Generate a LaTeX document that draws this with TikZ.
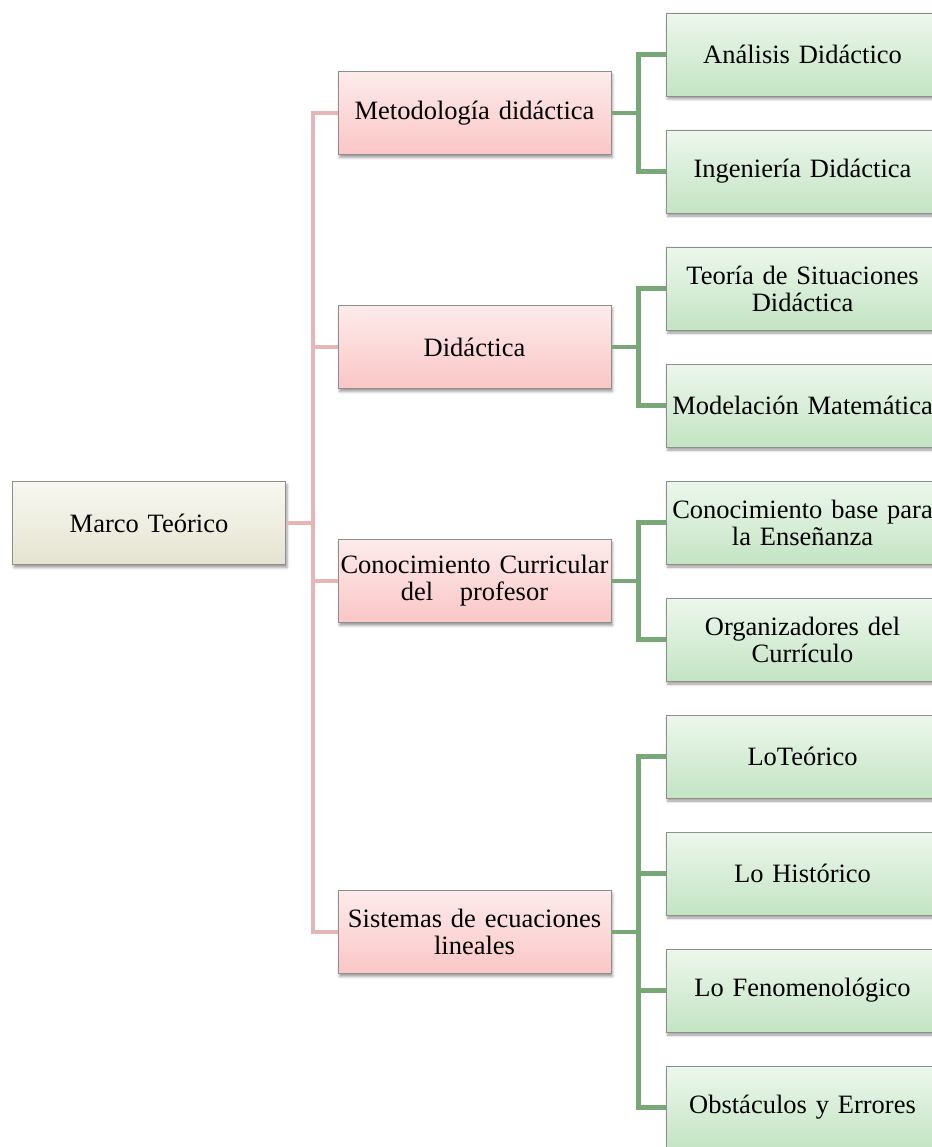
\documentclass[tikz,border=0pt]{standalone}
\usepackage{fontspec}
\setmainfont{Liberation Serif}
\usetikzlibrary{shadows.blur}
\definecolor{rootTop}{HTML}{F8F8F1}
\definecolor{rootBot}{HTML}{E5E3D0}
\definecolor{pinkTop}{HTML}{FDEBEB}
\definecolor{pinkBot}{HTML}{FBC6C6}
\definecolor{greenTop}{HTML}{EDF7ED}
\definecolor{greenBot}{HTML}{C3E4C3}
\definecolor{boxBorder}{HTML}{8E8E8E}
\definecolor{pinkLine}{HTML}{E6B5B5}
\definecolor{greenLine}{HTML}{78A878}
\tikzset{
  basebox/.style={draw=boxBorder, line width=0.9pt, minimum width=273pt, minimum height=83pt,
    inner sep=0pt, align=center, text width=270pt,
    font=\fontsize{26.5}{27}\selectfont,
    blur shadow={shadow xshift=1.5pt, shadow yshift=-3pt, shadow blur radius=2.5pt, shadow opacity=40}},
  rootbox/.style={basebox, top color=rootTop, bottom color=rootBot},
  pinkbox/.style={basebox, top color=pinkTop, bottom color=pinkBot},
  greenbox/.style={basebox, top color=greenTop, bottom color=greenBot},
  pinkline/.style={draw=pinkLine, line width=3.5pt},
  greenline/.style={draw=greenLine, line width=4.5pt}
}
\begin{document}
\begin{tikzpicture}[x=1pt, y=-1pt]
\useasboundingbox (0,0) rectangle (931,1147);
% root
\node[rootbox] (root) at (149,523) {Marco Teórico};
% level 1
\node[pinkbox] (m1) at (474.5,113) {Metodología didáctica};
\node[pinkbox] (m2) at (474.5,347) {Didáctica};
\node[pinkbox] (m3) at (474.5,581) {Conocimiento Curricular\\del\ \ \ profesor};
\node[pinkbox] (m4) at (474.5,932) {Sistemas de ecuaciones\\lineales};
% level 2
\node[greenbox] (a1) at (802.5,54.5) {Análisis Didáctico};
\node[greenbox] (a2) at (802.5,171.5) {Ingeniería Didáctica};
\node[greenbox] (b1) at (802.5,288.5) {Teoría de Situaciones\\Didáctica};
\node[greenbox] (b2) at (802.5,405.5) {Modelación Matemática};
\node[greenbox] (c1) at (802.5,522.5) {Conocimiento base para\\la Enseñanza};
\node[greenbox] (c2) at (802.5,639.5) {Organizadores del\\Currículo};
\node[greenbox] (d1) at (802.5,756.5) {LoTeórico};
\node[greenbox] (d2) at (802.5,873.5) {Lo Histórico};
\node[greenbox] (d3) at (802.5,990.5) {Lo Fenomenológico};
\node[greenbox] (d4) at (802.5,1107.5) {Obstáculos y Errores};
% connectors root -> level 1
\foreach \t in {m1,m2,m3,m4}
  \draw[pinkline] (root.east) -- ++(27,0) |- (\t.west);
% connectors level 1 -> level 2
\foreach \s/\t in {m1/a1,m1/a2,m2/b1,m2/b2,m3/c1,m3/c2,m4/d1,m4/d2,m4/d3,m4/d4}
  \draw[greenline] (\s.east) -- ++(27,0) |- (\t.west);
\end{tikzpicture}
\end{document}
